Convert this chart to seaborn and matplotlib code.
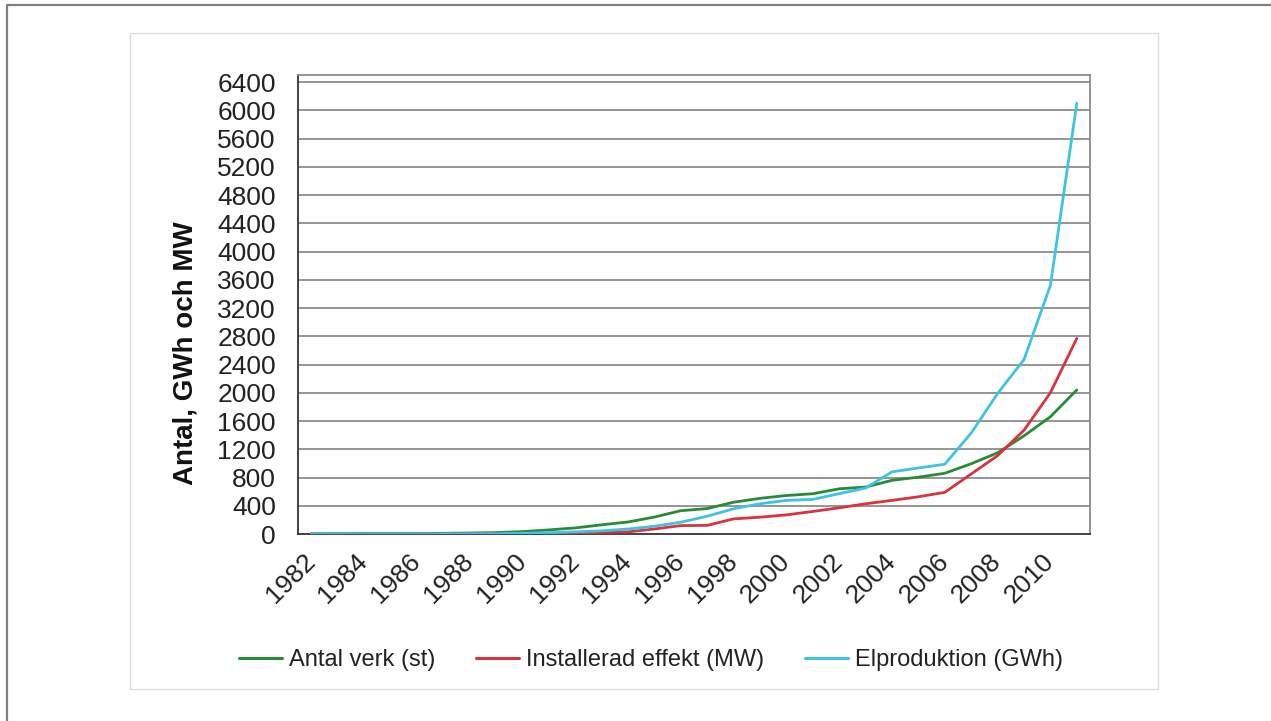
import numpy as np
import pandas as pd
import matplotlib
matplotlib.use("Agg")
import matplotlib.pyplot as plt
from matplotlib.lines import Line2D
from matplotlib.patches import Rectangle
import seaborn as sns

# Swedish wind power, 1982-2011
years = list(range(1982, 2012))
antal_verk = [2, 3, 5, 6, 8, 10, 14, 20, 34, 58, 86, 130, 170, 240, 330, 360,
              450, 505, 545, 570, 640, 665, 760, 805, 860, 995, 1150, 1390, 1660, 2040]
installerad_effekt = [1, 1, 2, 2, 3, 4, 5, 6, 8, 12, 16, 22, 30, 71, 119, 122,
                      214, 238, 271, 319, 371, 428, 476, 527, 590, 850, 1110, 1470, 2000, 2770]
elproduktion = [1, 1, 1, 1, 1, 1, 2, 5, 10, 18, 30, 45, 70, 110, 167, 252,
                357, 428, 476, 490, 571, 650, 880, 935, 988, 1430, 1990, 2470, 3520, 6100]

series_names = ["Antal verk (st)", "Installerad effekt (MW)", "Elproduktion (GWh)"]
series_colors = ["#2a8a36", "#d9333f", "#3cc3e6"]
y_ticks = list(range(0, 6401, 400))
x_label_years = years[::2]
y_title = "Antal, GWh och MW"

df = pd.DataFrame({
    "År": years * 3,
    "Värde": antal_verk + installerad_effekt + elproduktion,
    "Serie": [series_names[0]] * len(years) + [series_names[1]] * len(years)
             + [series_names[2]] * len(years),
})

sns.set_theme(style="white")
plt.rcParams["font.family"] = ["Liberation Sans", "DejaVu Sans"]

W, H = 1271, 721
fig = plt.figure(figsize=(W / 100, H / 100), dpi=100)
fig.patch.set_facecolor("white")

# outer frame (left and top edges) and the light chart-area box
fig.add_artist(Line2D([7 / W, 7 / W], [0, 1 - 5 / H], color="#808080", lw=1.6))
fig.add_artist(Line2D([7 / W, 1], [1 - 5 / H, 1 - 5 / H], color="#808080", lw=1.6))
fig.add_artist(Rectangle((130 / W, 1 - 689 / H), (1158 - 130) / W, (689 - 33) / H,
                         fill=False, edgecolor="#dcdcdc", lw=1.0))

ax = fig.add_axes([298 / W, 1 - 534 / H, 792 / W, 459 / H])

# gridlines drawn beneath the lines
ax.set_axisbelow(True)
for v in y_ticks[1:]:
    ax.axhline(v, color="#8c8c8c", lw=1.3, zorder=0)

sns.lineplot(data=df, x="År", y="Värde", hue="Serie", hue_order=series_names,
             palette=series_colors, linewidth=2.0, legend=False, ax=ax, zorder=3)

ax.set_xlim(years[0] - 0.5, years[-1] + 0.5)
ax.set_ylim(0, 6500)
ax.set_xlabel("")
ax.set_ylabel("")

ax.set_yticks(y_ticks)
ax.set_yticklabels([str(v) for v in y_ticks], fontsize=19, color="#222222")
ax.tick_params(axis="y", direction="out", length=5, width=1.2, color="#333333", pad=11)

# tick marks between categories, labels on every other year
ax.set_xticks(np.arange(years[0] - 0.5, years[-1] + 1.0, 1.0))
ax.set_xticklabels([])
ax.tick_params(axis="x", which="major", direction="out", length=5, width=1.2,
               color="#333333")
ax.set_xticks(x_label_years, minor=True)
ax.set_xticklabels([str(y) for y in x_label_years], minor=True, fontsize=19,
                   color="#222222", rotation=45, ha="right", va="center",
                   rotation_mode="anchor")
ax.tick_params(axis="x", which="minor", length=0, pad=17)

for side in ["left", "bottom"]:
    ax.spines[side].set_color("#333333")
    ax.spines[side].set_linewidth(1.3)
for side in ["top", "right"]:
    ax.spines[side].set_color("#8c8c8c")
    ax.spines[side].set_linewidth(1.3)

fig.text(185 / W, 1 - 353 / H, y_title, rotation=90, ha="center", va="center",
         fontsize=20, fontweight="bold", color="#111111")

handles = [Line2D([0], [0], color=c, lw=2.2) for c in series_colors]
fig.legend(handles, series_names, loc="center", bbox_to_anchor=(651 / W, 1 - 660 / H),
           ncol=3, frameon=False, fontsize=17, handlelength=1.83, handletextpad=0.3,
           columnspacing=1.7, labelcolor="#222222")

fig.savefig("out.png", dpi=100, facecolor="white")
